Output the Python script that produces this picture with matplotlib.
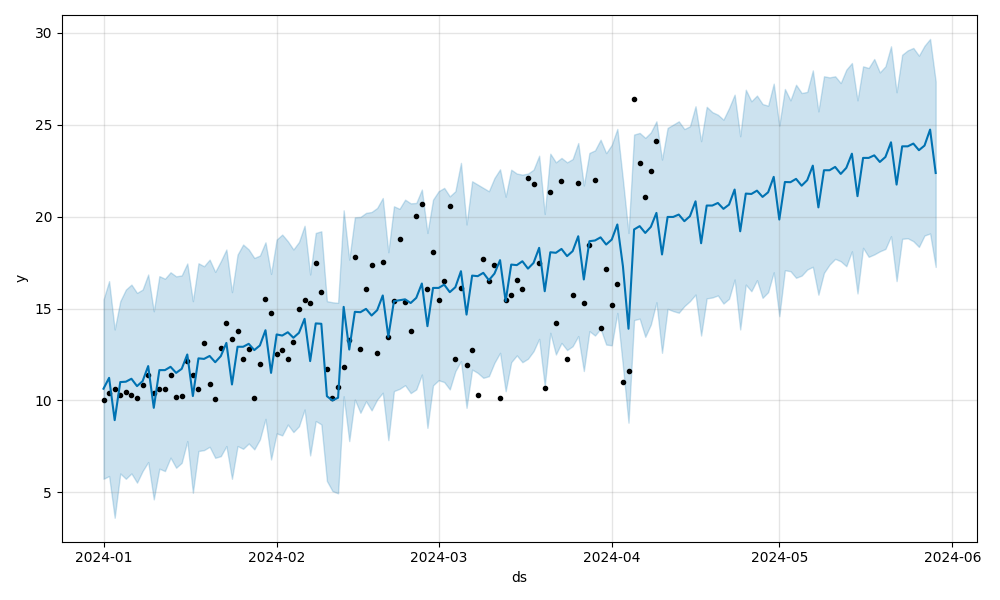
import numpy as np
import pandas as pd
import matplotlib
matplotlib.use("Agg")
import matplotlib.pyplot as plt

# Dates: history is the first 100 days, forecast runs 150 days
start_date = "2024-01-01"
n_history = 100
n_forecast = 150

# Observed values
y_obs = [
    10.0, 10.42, 10.64, 10.31, 10.47, 10.27, 10.15, 10.85, 11.41, 10.42,
    10.65, 10.65, 11.4, 10.2, 10.26, 12.16, 11.36, 10.65, 13.1, 10.9,
    10.09, 12.83, 14.22, 13.32, 13.8, 12.23, 12.81, 10.15, 11.99, 15.53,
    14.76, 12.5, 12.72, 12.28, 13.19, 14.95, 15.49, 15.31, 17.48, 15.91,
    11.72, 10.11, 10.74, 11.83, 13.31, 17.81, 12.81, 16.07, 17.37, 12.59,
    17.55, 13.46, 15.40, 18.79, 15.34, 13.79, 20.02, 20.71, 16.07, 18.08,
    15.47, 16.5, 20.58, 12.27, 16.12, 11.94, 12.75, 10.31, 17.7, 16.52,
    17.37, 10.16, 15.49, 15.76, 16.54, 16.07, 22.1, 21.79, 17.45, 10.69,
    21.34, 14.22, 21.96, 12.26, 15.76, 21.83, 15.31, 18.48, 21.99, 13.95,
    17.17, 15.2, 16.36, 11.03, 11.61, 26.4, 22.92, 21.07, 22.48, 24.1,
]

# Forecast
yhat = [
    10.64, 11.23, 8.93, 11.0, 11.02, 11.18, 10.78, 11.05, 11.87, 9.6,
    11.65, 11.65, 11.83, 11.5, 11.72, 12.5, 10.24, 12.29, 12.26, 12.42,
    12.08, 12.41, 13.13, 10.87, 12.92, 12.92, 13.08, 12.74, 12.99, 13.82,
    11.5, 13.59, 13.53, 13.71, 13.41, 13.68, 14.44, 12.14, 14.19, 14.17,
    10.23, 10.0, 10.15, 15.09, 12.77, 14.82, 14.80, 14.98, 14.62, 14.91,
    15.71, 13.46, 15.40, 15.45, 15.5, 15.3, 15.58, 16.36, 14.04, 16.12,
    16.12, 16.30, 15.89, 16.16, 17.03, 14.67, 16.79, 16.76, 16.94, 16.54,
    16.9, 17.63, 15.40, 17.39, 17.36, 17.57, 17.17, 17.48, 18.3, 15.94,
    18.06, 18.03, 18.24, 17.85, 18.12, 18.93, 16.58, 18.66, 18.7, 18.87,
    18.48, 18.75, 19.57, 17.3, 13.9, 19.3, 19.48, 19.11, 19.44, 20.2,
    17.94, 19.98, 19.98, 20.11, 19.75, 20.02, 20.83, 18.55, 20.6, 20.6,
    20.74, 20.42, 20.65, 21.47, 19.2, 21.25, 21.23, 21.41, 21.07, 21.32,
    22.16, 19.84, 21.88, 21.87, 22.05, 21.68, 21.98, 22.77, 20.5, 22.52,
    22.52, 22.7, 22.32, 22.65, 23.42, 21.11, 23.19, 23.19, 23.33, 22.97,
    23.24, 24.04, 21.74, 23.82, 23.82, 23.97, 23.61, 23.86, 24.73, 22.37,
]

yhat_upper = [
    15.49, 16.49, 13.86, 15.4, 16.03, 16.3, 15.85, 16.03, 16.85, 14.85,
    16.76, 16.62, 16.97, 16.75, 16.8, 17.45, 15.4, 17.46, 17.3, 17.66,
    16.99, 17.57, 18.21, 15.89, 17.93, 18.48, 18.21, 17.75, 17.88, 18.60,
    16.88, 18.75, 19.02, 18.66, 18.21, 18.62, 19.5, 16.85, 19.11, 19.2,
    15.40, 15.34, 15.31, 20.34, 17.66, 19.96, 19.98, 20.2, 20.25, 20.47,
    21.01, 18.06, 20.56, 20.42, 20.92, 20.72, 20.74, 21.47, 19.11, 20.92,
    21.38, 21.56, 21.1, 21.38, 22.92, 19.57, 21.92, 21.74, 21.56, 21.38,
    22.1, 22.57, 21.08, 22.55, 22.34, 22.28, 22.34, 22.55, 23.31, 20.14,
    23.42, 22.95, 23.19, 22.95, 23.13, 24.0, 21.69, 23.46, 23.6, 24.18,
    23.45, 23.9, 24.77, 22.01, 19.11, 24.46, 24.55, 24.28, 24.58, 25.18,
    23.1, 24.82, 25.0, 25.18, 24.76, 24.91, 26.0, 24.1, 25.97, 25.68,
    25.54, 25.27, 25.9, 26.63, 24.37, 26.9, 26.27, 26.58, 26.12, 26.03,
    27.23, 24.95, 26.94, 26.32, 27.17, 26.72, 26.78, 27.95, 25.72, 27.63,
    27.57, 27.63, 27.26, 27.99, 28.35, 26.32, 28.17, 28.08, 28.57, 27.84,
    28.17, 29.26, 26.76, 28.8, 29.04, 29.17, 28.75, 29.29, 29.66, 27.35,
]

yhat_lower = [
    5.74, 5.89, 3.62, 6.03, 5.74, 6.03, 5.53, 6.16, 6.65, 4.62,
    6.29, 6.16, 6.89, 6.34, 6.61, 7.79, 4.98, 7.25, 7.3, 7.48,
    6.88, 6.97, 7.52, 5.74, 7.52, 7.37, 7.66, 7.34, 7.88, 9.00,
    6.79, 8.21, 8.10, 8.69, 8.28, 8.60, 9.51, 7.01, 8.88, 8.70,
    5.62, 5.07, 4.95, 10.23, 7.79, 10.05, 9.33, 9.96, 9.46, 10.05,
    10.42, 7.84, 10.51, 10.63, 10.83, 10.4, 10.6, 11.41, 8.51, 10.82,
    11.10, 11.0, 10.6, 11.59, 12.14, 9.6, 11.68, 11.5, 11.23, 11.32,
    12.05, 12.59, 10.5, 12.08, 12.45, 12.08, 12.27, 12.68, 13.35, 10.78,
    13.68, 12.5, 13.13, 12.74, 12.95, 13.5, 11.6, 13.77, 13.53, 13.9,
    13.04, 13.0, 14.76, 11.86, 8.79, 14.37, 14.45, 13.46, 14.13, 15.34,
    12.59, 14.98, 14.86, 14.77, 15.13, 15.4, 15.76, 13.53, 15.55, 15.6,
    15.71, 15.27, 15.53, 16.58, 13.86, 16.3, 15.94, 16.54, 15.58, 15.89,
    16.97, 14.58, 17.08, 17.03, 16.67, 16.79, 17.12, 17.27, 15.75, 16.94,
    17.39, 17.7, 17.57, 17.3, 18.11, 15.82, 18.3, 17.81, 17.94, 18.11,
    18.24, 18.93, 16.49, 18.79, 18.82, 18.66, 18.35, 18.97, 19.08, 17.26,
]

ds_hist = pd.date_range(start_date, periods=n_history, freq="D")
ds_fcst = pd.date_range(start_date, periods=n_forecast, freq="D")

fig = plt.figure(figsize=(10, 6), dpi=100, facecolor="w")
ax = fig.add_subplot(111)

# observations, forecast line and uncertainty band
ax.plot(ds_hist, y_obs, "k.")
ax.plot(ds_fcst, yhat, ls="-", c="#0072B2")
ax.fill_between(ds_fcst, yhat_lower, yhat_upper, color="#0072B2", alpha=0.2)

ax.grid(True, which="major", c="gray", ls="-", lw=1, alpha=0.2)
ax.set_xlabel("ds")
ax.set_ylabel("y")

fig.tight_layout()
fig.savefig("out.png")
